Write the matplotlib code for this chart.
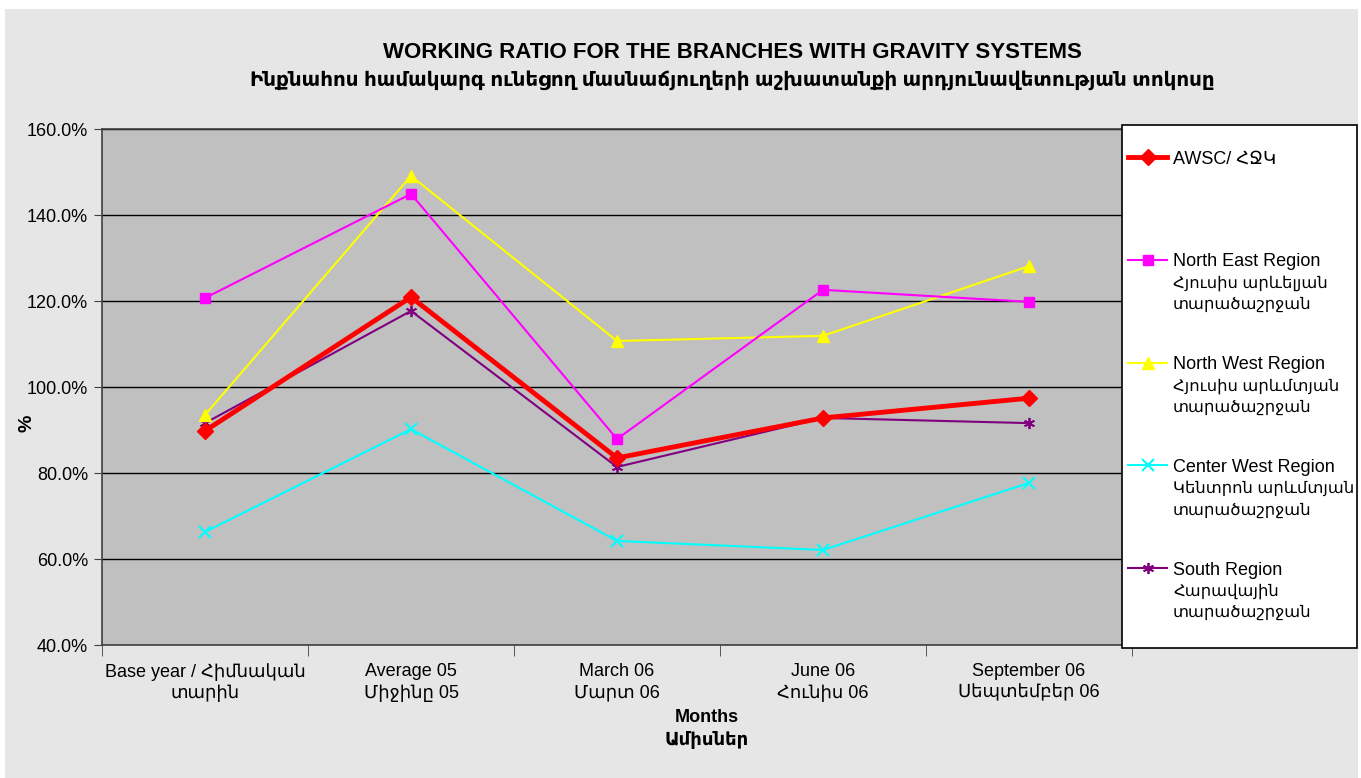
import matplotlib.pyplot as plt
from matplotlib.lines import Line2D
from matplotlib.patches import Rectangle
from matplotlib.ticker import PercentFormatter, FixedLocator

W, H = 1361, 778

categories = ["Base year / Հիմնական\nտարին", "Average 05\nՄիջինը 05", "March 06\nՄարտ 06",
              "June 06\nՀունիս 06", "September 06\nՍեպտեմբեր 06"]

awsc = [89.8, 120.9, 83.5, 92.8, 97.4]
north_east = [120.7, 144.9, 87.9, 122.6, 119.8]
north_west = [93.5, 149.1, 110.7, 111.9, 128.1]
center_west = [66.3, 90.2, 64.2, 62.1, 77.7]
south = [91.6, 117.7, 81.4, 92.8, 91.6]

labels = ["AWSC/ ՀՋԿ",
          "North East Region\nՀյուսիս արևելյան\nտարածաշրջան",
          "North West Region\nՀյուսիս արևմտյան\nտարածաշրջան",
          "Center West Region\nԿենտրոն արևմտյան\nտարածաշրջան",
          "South Region\nՀարավային\nտարածաշրջան"]

fonts = ['Liberation Sans', 'DejaVu Sans']
plt.rcParams['font.family'] = fonts


def fx(px):
    return px / W


def fy(py):
    return 1 - py / H


fig = plt.figure(figsize=(W / 100, H / 100), dpi=100, facecolor='white')
fig.patches.append(Rectangle((fx(5), fy(778)), fx(1353), 769 / H, transform=fig.transFigure,
                             facecolor='#e6e6e6', edgecolor='none', zorder=-10))

ax = fig.add_axes([fx(102), fy(645), fx(1030), 516 / H])
ax.set_facecolor('#c0c0c0')

x = list(range(len(categories)))
series = [
    (awsc, dict(color='#ff0000', lw=3.5, marker='D', ms=8)),
    (north_east, dict(color='#ff00ff', lw=1.5, marker='s', ms=7)),
    (north_west, dict(color='#ffff00', lw=1.5, marker='^', ms=8)),
    (center_west, dict(color='#00ffff', lw=1.5, marker='x', ms=8, mew=1.5)),
    (south, dict(color='#800080', lw=1.5, marker=(6, 2, 0), ms=8, mew=1.3)),
]
for vals, st in series[::-1]:
    ax.plot(x, vals, zorder=3, **st)
styles = [st for _, st in series]

ax.set_ylim(40, 160)
ax.set_xlim(-0.5, len(categories) - 0.5)
ax.set_yticks(range(40, 161, 20))
ax.yaxis.set_major_formatter(PercentFormatter(100, decimals=1))
ax.grid(axis='y', color='black', lw=1)
ax.set_axisbelow(True)

ax.set_xticks(x)
ax.set_xticklabels(categories, fontsize=13, linespacing=1.3)
ax.xaxis.set_minor_locator(FixedLocator([i - 0.5 for i in range(len(categories) + 1)]))
ax.tick_params(axis='x', which='major', length=0, pad=13)
ax.tick_params(axis='x', which='minor', length=8, color='#404040')
ax.tick_params(axis='y', labelsize=13, length=6, color='#404040', pad=4)
for s in ax.spines.values():
    s.set_color('#404040')
    s.set_linewidth(1.2)

ax.set_ylabel('%', fontsize=14, fontweight='bold')
ax.yaxis.set_label_coords(-0.065, 0.43)

fig.text(fx(732), fy(52), "WORKING RATIO FOR THE BRANCHES WITH GRAVITY SYSTEMS",
         ha='center', va='center', fontsize=16, fontweight='bold')
fig.text(fx(732), fy(80), "Ինքնահոս համակարգ ունեցող մասնաճյուղերի աշխատանքի արդյունավետության տոկոսը",
         ha='center', va='center', fontsize=14.3, fontweight='bold')
fig.text(fx(707), fy(729), "Months\nԱմիսներ", ha='center', va='center',
         fontsize=13, fontweight='bold', linespacing=1.4)

# legend box drawn by hand so the handle lines up with the first line of each label
fig.patches.append(Rectangle((fx(1122), fy(648)), fx(235), 523 / H, transform=fig.transFigure,
                             facecolor='white', edgecolor='black', lw=1.2, zorder=5))
for i, (st, lab) in enumerate(zip(styles, labels)):
    hy = 157 + i * 102.8
    line_st = dict(st)
    line_st['marker'] = 'None'
    fig.lines.append(Line2D([fx(1128), fx(1167)], [fy(hy), fy(hy)], transform=fig.transFigure,
                            zorder=6, **line_st))
    fig.lines.append(Line2D([fx(1147.5)], [fy(hy)], transform=fig.transFigure, zorder=6, **st))
    for j, part in enumerate(lab.split('\n')):
        fig.text(fx(1173), fy(hy + j * 21.5), part, ha='left', va='center_baseline',
                 fontsize=13 if j == 0 else 11.8, zorder=7)

fig.savefig('out.png', dpi=100, facecolor=fig.get_facecolor())
